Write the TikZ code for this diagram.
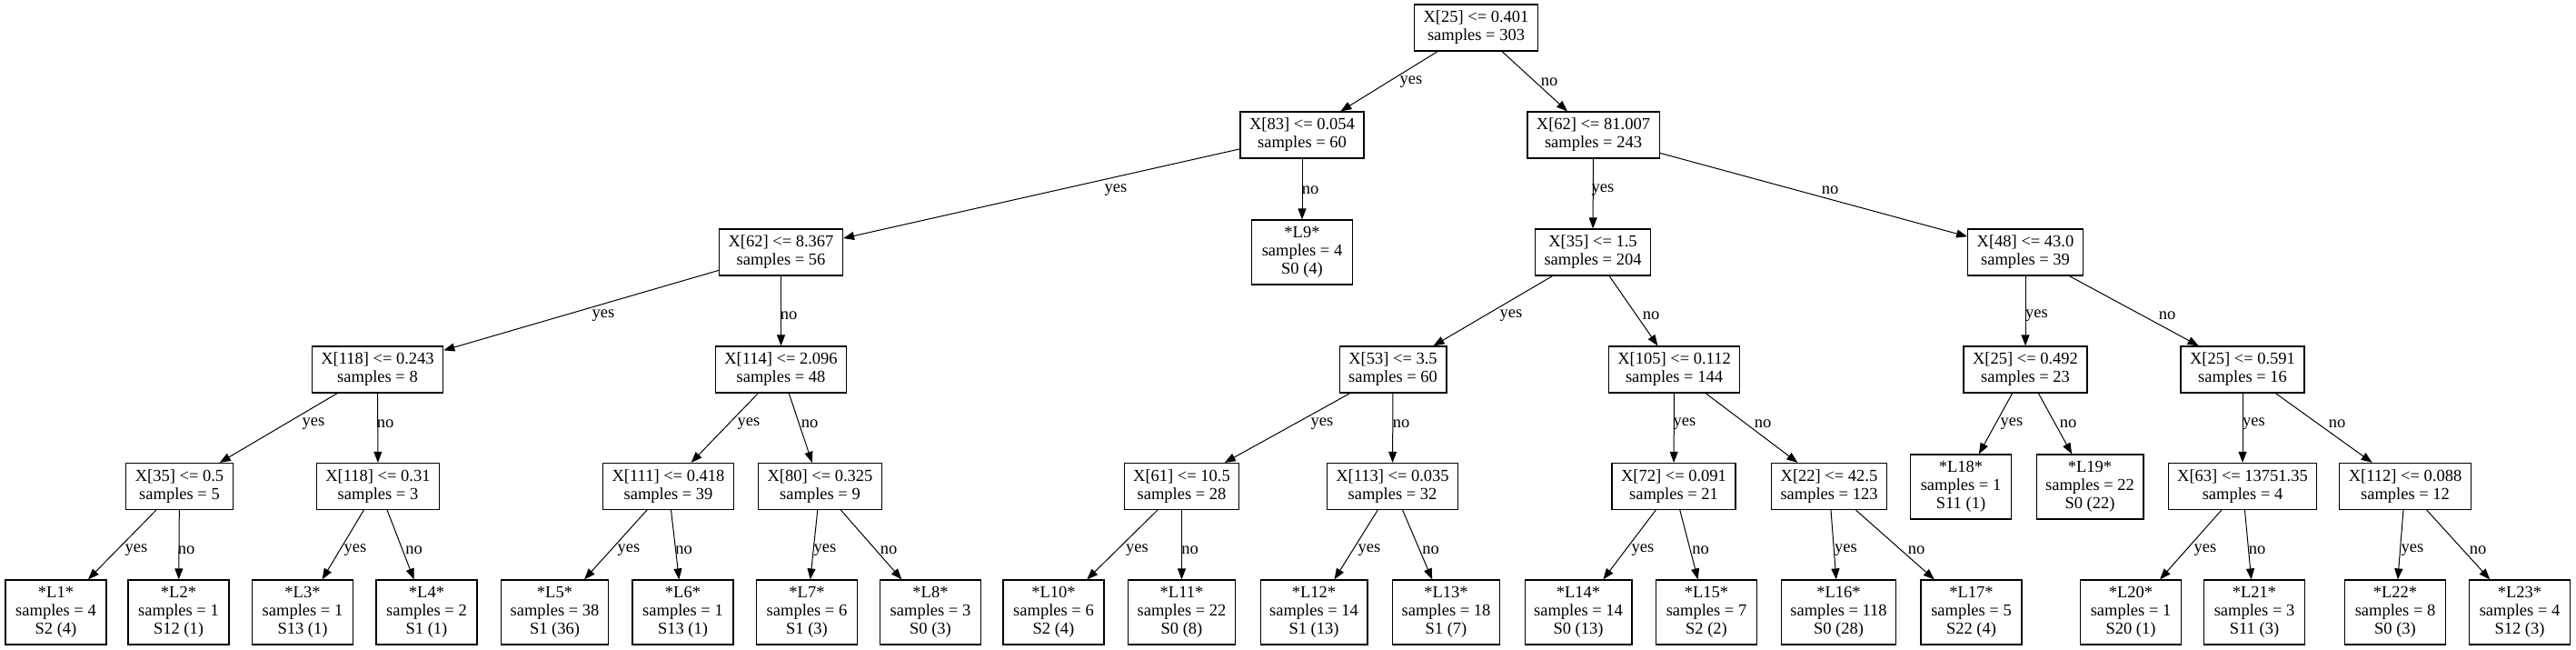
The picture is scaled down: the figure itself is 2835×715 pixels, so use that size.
\documentclass[tikz,border=0pt]{standalone}
\usepackage{fontspec}
\setmainfont{Liberation Serif}
\usetikzlibrary{arrows.meta}
\newcommand\treefont{\fontsize{9.25}{10}\selectfont}
\tikzset{
 split/.style={draw, line width=0.6pt, rectangle, font=\treefont, align=center, minimum height=25.5pt, inner xsep=5pt, inner ysep=1pt},
 leaf/.style={split, minimum height=35.5pt, minimum width=55.5pt},
 lbl/.style={font=\treefont, inner sep=0pt},
 conn/.style={-{Triangle[length=6pt,width=4.5pt]}, line width=0.5pt}
}
\begin{document}
\begin{tikzpicture}[x=0.5pt,y=-0.5pt]
\fill[white] (0,0) rectangle (2835,715);
\useasboundingbox (0,0) rectangle (2835,715);
% rank 0
\node[split] (n0) at (1624.5,30.5) {X[25] <= 0.401\\samples = 303};
% rank 1
\node[split] (n1) at (1433,148.5) {X[83] <= 0.054\\samples = 60};
\node[split] (n2) at (1753.5,148.5) {X[62] <= 81.007\\samples = 243};
% rank 2
\node[split] (n3) at (859.5,277.5) {X[62] <= 8.367\\samples = 56};
\node[leaf] (L9) at (1433,277.5) {*L9*\\samples = 4\\S0 (4)};
\node[split] (n4) at (1753,277.5) {X[35] <= 1.5\\samples = 204};
\node[split] (n5) at (2229,277.5) {X[48] <= 43.0\\samples = 39};
% rank 3
\node[split] (n6) at (415.5,406.5) {X[118] <= 0.243\\samples = 8};
\node[split] (n7) at (859.5,406.5) {X[114] <= 2.096\\samples = 48};
\node[split] (n8) at (1533,406.5) {X[53] <= 3.5\\samples = 60};
\node[split] (n9) at (1842.5,406.5) {X[105] <= 0.112\\samples = 144};
\node[split] (n10) at (2229,406.5) {X[25] <= 0.492\\samples = 23};
\node[split] (n11) at (2468,406.5) {X[25] <= 0.591\\samples = 16};
% rank 4
\node[split] (n12) at (197.5,535) {X[35] <= 0.5\\samples = 5};
\node[split] (n13) at (416,535) {X[118] <= 0.31\\samples = 3};
\node[split] (n14) at (735.5,535) {X[111] <= 0.418\\samples = 39};
\node[split] (n15) at (902.5,535) {X[80] <= 0.325\\samples = 9};
\node[split] (n16) at (1300.5,535) {X[61] <= 10.5\\samples = 28};
\node[split] (n17) at (1532.5,535) {X[113] <= 0.035\\samples = 32};
\node[split] (n18) at (1842,535) {X[72] <= 0.091\\samples = 21};
\node[split] (n19) at (2013,535) {X[22] <= 42.5\\samples = 123};
\node[leaf] (L18) at (2158,535.5) {*L18*\\samples = 1\\S11 (1)};
\node[leaf] (L19) at (2300,535.5) {*L19*\\samples = 22\\S0 (22)};
\node[split] (n20) at (2468,535) {X[63] <= 13751.35\\samples = 4};
\node[split] (n21) at (2647,535) {X[112] <= 0.088\\samples = 12};
% rank 5
\node[leaf] (L1) at (61.5,673.5) {*L1*\\samples = 4\\S2 (4)};
\node[leaf] (L2) at (196.5,673.5) {*L2*\\samples = 1\\S12 (1)};
\node[leaf] (L3) at (333,673.5) {*L3*\\samples = 1\\S13 (1)};
\node[leaf] (L4) at (469.5,673.5) {*L4*\\samples = 2\\S1 (1)};
\node[leaf] (L5) at (610.5,673.5) {*L5*\\samples = 38\\S1 (36)};
\node[leaf] (L6) at (751.5,673.5) {*L6*\\samples = 1\\S13 (1)};
\node[leaf] (L7) at (888,673.5) {*L7*\\samples = 6\\S1 (3)};
\node[leaf] (L8) at (1024,673.5) {*L8*\\samples = 3\\S0 (3)};
\node[leaf] (L10) at (1159.5,673.5) {*L10*\\samples = 6\\S2 (4)};
\node[leaf] (L11) at (1300.5,673.5) {*L11*\\samples = 22\\S0 (8)};
\node[leaf] (L12) at (1446,673.5) {*L12*\\samples = 14\\S1 (13)};
\node[leaf] (L13) at (1591.5,673.5) {*L13*\\samples = 18\\S1 (7)};
\node[leaf] (L14) at (1737,673.5) {*L14*\\samples = 14\\S0 (13)};
\node[leaf] (L15) at (1878,673.5) {*L15*\\samples = 7\\S2 (2)};
\node[leaf] (L16) at (2023.5,673.5) {*L16*\\samples = 118\\S0 (28)};
\node[leaf] (L17) at (2169.5,673.5) {*L17*\\samples = 5\\S22 (4)};
\node[leaf] (L20) at (2345,673.5) {*L20*\\samples = 1\\S20 (1)};
\node[leaf] (L21) at (2481,673.5) {*L21*\\samples = 3\\S11 (3)};
\node[leaf] (L22) at (2636,673.5) {*L22*\\samples = 8\\S0 (3)};
\node[leaf] (L23) at (2773,673.5) {*L23*\\samples = 4\\S12 (3)};
% edges
\draw[conn] (n0) -- (n1) node[lbl] at (1553,90) {yes};
\draw[conn] (n0) -- (n2) node[lbl] at (1705,90) {no};
\draw[conn] (n1) -- (n3) node[lbl] at (1228,209) {yes};
\draw[conn] (n1) -- (L9) node[lbl] at (1442,209) {no};
\draw[conn] (n2) -- (n4) node[lbl] at (1764,209) {yes};
\draw[conn] (n2) -- (n5) node[lbl] at (2014,209) {no};
\draw[conn] (n3) -- (n6) node[lbl] at (664,347) {yes};
\draw[conn] (n3) -- (n7) node[lbl] at (868,347) {no};
\draw[conn] (n4) -- (n8) node[lbl] at (1663,347) {yes};
\draw[conn] (n4) -- (n9) node[lbl] at (1817,347) {no};
\draw[conn] (n5) -- (n10) node[lbl] at (2241.5,347) {yes};
\draw[conn] (n5) -- (n11) node[lbl] at (2385,347) {no};
\draw[conn] (n6) -- (n12) node[lbl] at (345,466) {yes};
\draw[conn] (n6) -- (n13) node[lbl] at (424,466) {no};
\draw[conn] (n7) -- (n14) node[lbl] at (824,466) {yes};
\draw[conn] (n7) -- (n15) node[lbl] at (891,466) {no};
\draw[conn] (n8) -- (n16) node[lbl] at (1455,466) {yes};
\draw[conn] (n8) -- (n17) node[lbl] at (1542,466) {no};
\draw[conn] (n9) -- (n18) node[lbl] at (1854,466) {yes};
\draw[conn] (n9) -- (n19) node[lbl] at (1940,466) {no};
\draw[conn] (n10) -- (L18) node[lbl] at (2214,466) {yes};
\draw[conn] (n10) -- (L19) node[lbl] at (2276,466) {no};
\draw[conn] (n11) -- (n20) node[lbl] at (2480.5,466) {yes};
\draw[conn] (n11) -- (n21) node[lbl] at (2572,466) {no};
\draw[conn] (n12) -- (L1) node[lbl] at (150,605) {yes};
\draw[conn] (n12) -- (L2) node[lbl] at (205,605) {no};
\draw[conn] (n13) -- (L3) node[lbl] at (391,605) {yes};
\draw[conn] (n13) -- (L4) node[lbl] at (455.5,605) {no};
\draw[conn] (n14) -- (L5) node[lbl] at (692,605) {yes};
\draw[conn] (n14) -- (L6) node[lbl] at (752.5,605) {no};
\draw[conn] (n15) -- (L7) node[lbl] at (908,605) {yes};
\draw[conn] (n15) -- (L8) node[lbl] at (978,605) {no};
\draw[conn] (n16) -- (L10) node[lbl] at (1251.5,605) {yes};
\draw[conn] (n16) -- (L11) node[lbl] at (1309.5,605) {no};
\draw[conn] (n17) -- (L12) node[lbl] at (1507,605) {yes};
\draw[conn] (n17) -- (L13) node[lbl] at (1574.5,605) {no};
\draw[conn] (n18) -- (L14) node[lbl] at (1808,605) {yes};
\draw[conn] (n18) -- (L15) node[lbl] at (1871.5,605) {no};
\draw[conn] (n19) -- (L16) node[lbl] at (2031.5,605) {yes};
\draw[conn] (n19) -- (L17) node[lbl] at (2109,605) {no};
\draw[conn] (n20) -- (L20) node[lbl] at (2427,605) {yes};
\draw[conn] (n20) -- (L21) node[lbl] at (2484,605) {no};
\draw[conn] (n21) -- (L22) node[lbl] at (2655,605) {yes};
\draw[conn] (n21) -- (L23) node[lbl] at (2727,605) {no};
\end{tikzpicture}
\end{document}
